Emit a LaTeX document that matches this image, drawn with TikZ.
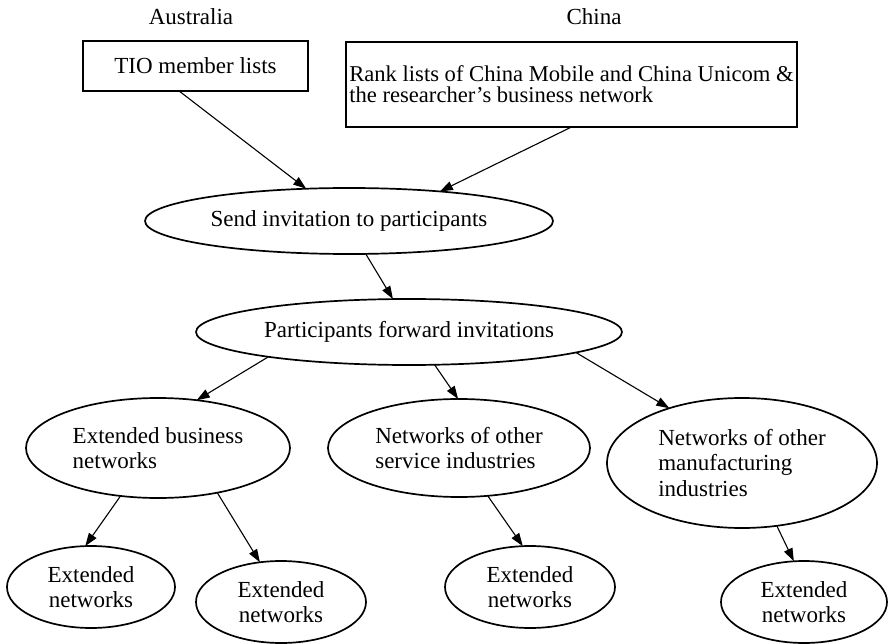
\documentclass[tikz,border=0pt]{standalone}
\usepackage{fontspec}
\setmainfont{Liberation Serif}
\usetikzlibrary{arrows.meta,shapes.geometric,calc}
\begin{document}
\begin{tikzpicture}[x=1pt,y=-1pt,
  every node/.style={font=\fontsize{23}{25.5}\selectfont},
  oval/.style={ellipse,draw,line width=1.7pt,inner sep=0pt,outer sep=0pt},
  listbox/.style={rectangle,draw,line width=1.7pt,inner sep=0pt,outer sep=0pt},
  link/.style={line width=1.1pt,-{Triangle[length=13pt,width=9pt]}}]
\useasboundingbox (0,0) rectangle (889,644);

% country headings
\node (aus) at (191,17) {Australia};
\node (chn) at (594,17) {China};

% source lists
\node[listbox,minimum width=225pt,minimum height=50pt] (tio) at (195.5,66) {TIO member lists};
\node[listbox,minimum width=451pt,minimum height=85pt,align=left,
      font=\fontsize{22.6}{21}\selectfont] (rank) at (571.5,84.5)
      {Rank lists of China Mobile and China Unicom \&\\the researcher's business network};

% process steps
\node[oval,minimum width=408pt,minimum height=66pt] (send) at (349,221) {Send invitation to participants};
\node[oval,minimum width=426pt,minimum height=66pt] (fwd) at (409,332) {Participants forward invitations};

% second-level networks
\node[oval,minimum width=264pt,minimum height=100pt,align=left] (ebn) at (158,448) {Extended business\\networks};
\node[oval,minimum width=262pt,minimum height=98pt,align=left] (svc) at (459,448) {Networks of other\\service industries};
\node[oval,minimum width=270pt,minimum height=130pt,align=left] (mfg) at (742,463) {Networks of other\\manufacturing\\industries};

% extended networks
\node[oval,minimum width=168pt,minimum height=82pt,align=center] (x1) at (91,587) {Extended\\networks};
\node[oval,minimum width=170pt,minimum height=82pt,align=center] (x2) at (281,602) {Extended\\networks};
\node[oval,minimum width=170pt,minimum height=82pt,align=center] (x3) at (530,587) {Extended\\networks};
\node[oval,minimum width=166pt,minimum height=82pt,align=center] (x4) at (804,602) {Extended\\networks};

% connectors
\draw[link] ($(tio.south west)!0.427!(tio.south east)$) -- (send.143);
\draw[link] (rank.south) -- (send.18);
\draw[link] (send.-63) -- (fwd.116);
\draw[link] (fwd.190) -- (ebn.51);
\draw[link] (fwd.-52) -- (svc.91);
\draw[link] (fwd.-7) -- (mfg.143);
\draw[link] (ebn.232) -- (x1.98);
\draw[link] (ebn.-37) -- (x2.118);
\draw[link] (svc.-59) -- (x3.100);
\draw[link] (mfg.-61) -- (x4.104);
\end{tikzpicture}
\end{document}
